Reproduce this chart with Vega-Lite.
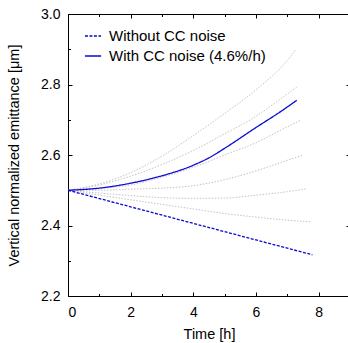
{
  "$schema": "https://vega.github.io/schema/vega-lite/v6.json",
  "width": 282,
  "height": 282,
  "autosize": {"type": "none"},
  "padding": {"left": 68, "top": 14, "right": 0, "bottom": 47},
  "config": {
    "view": {"stroke": null},
    "font": "Liberation Sans",
    "axis": {
      "grid": false,
      "domainColor": "#000000",
      "domainWidth": 1,
      "tickColor": "#000000",
      "tickWidth": 1,
      "labelColor": "#000000",
      "labelFont": "Liberation Sans",
      "labelFontSize": 14,
      "titleFont": "Liberation Sans",
      "titleFontSize": 14.5,
      "titleFontWeight": "normal",
      "titleColor": "#000000"
    },
    "legend": {"labelFont": "Liberation Sans", "labelColor": "#000000"}
  },
  "datasets": {
    "gray": [
      {"series": "g1", "t": 0, "e": 2.5}, {"series": "g1", "t": 1, "e": 2.518}, {"series": "g1", "t": 2, "e": 2.55}, {"series": "g1", "t": 3, "e": 2.597}, {"series": "g1", "t": 4, "e": 2.655}, {"series": "g1", "t": 5, "e": 2.718}, {"series": "g1", "t": 6, "e": 2.785}, {"series": "g1", "t": 7, "e": 2.868}, {"series": "g1", "t": 7.28, "e": 2.9},
      {"series": "g2", "t": 0, "e": 2.5}, {"series": "g2", "t": 1, "e": 2.515}, {"series": "g2", "t": 2, "e": 2.54}, {"series": "g2", "t": 3, "e": 2.573}, {"series": "g2", "t": 4, "e": 2.613}, {"series": "g2", "t": 5, "e": 2.66}, {"series": "g2", "t": 6, "e": 2.71}, {"series": "g2", "t": 6.75, "e": 2.757}, {"series": "g2", "t": 7.34, "e": 2.795},
      {"series": "g3", "t": 0, "e": 2.5}, {"series": "g3", "t": 1, "e": 2.505}, {"series": "g3", "t": 2, "e": 2.515}, {"series": "g3", "t": 3, "e": 2.537}, {"series": "g3", "t": 4, "e": 2.565}, {"series": "g3", "t": 5, "e": 2.6}, {"series": "g3", "t": 6, "e": 2.635}, {"series": "g3", "t": 7, "e": 2.68}, {"series": "g3", "t": 7.41, "e": 2.698},
      {"series": "g4", "t": 0, "e": 2.5}, {"series": "g4", "t": 1, "e": 2.5}, {"series": "g4", "t": 2, "e": 2.503}, {"series": "g4", "t": 3, "e": 2.506}, {"series": "g4", "t": 4, "e": 2.513}, {"series": "g4", "t": 5, "e": 2.53}, {"series": "g4", "t": 6, "e": 2.555}, {"series": "g4", "t": 7, "e": 2.585}, {"series": "g4", "t": 7.52, "e": 2.6},
      {"series": "g5", "t": 0, "e": 2.5}, {"series": "g5", "t": 1, "e": 2.492}, {"series": "g5", "t": 2, "e": 2.485}, {"series": "g5", "t": 3, "e": 2.479}, {"series": "g5", "t": 4, "e": 2.477}, {"series": "g5", "t": 5, "e": 2.478}, {"series": "g5", "t": 6, "e": 2.486}, {"series": "g5", "t": 7, "e": 2.496}, {"series": "g5", "t": 7.58, "e": 2.504},
      {"series": "g6", "t": 0, "e": 2.5}, {"series": "g6", "t": 1, "e": 2.486}, {"series": "g6", "t": 2, "e": 2.473}, {"series": "g6", "t": 3, "e": 2.46}, {"series": "g6", "t": 4, "e": 2.447}, {"series": "g6", "t": 5, "e": 2.434}, {"series": "g6", "t": 6, "e": 2.424}, {"series": "g6", "t": 7, "e": 2.415}, {"series": "g6", "t": 7.76, "e": 2.41}
    ],
    "blue": [
      {"series": "Without CC noise", "t": 0, "e": 2.5}, {"series": "Without CC noise", "t": 2, "e": 2.453}, {"series": "Without CC noise", "t": 4, "e": 2.406}, {"series": "Without CC noise", "t": 6, "e": 2.359}, {"series": "Without CC noise", "t": 7.8, "e": 2.317},
      {"series": "With CC noise (4.6%/h)", "t": 0, "e": 2.5}, {"series": "With CC noise (4.6%/h)", "t": 1, "e": 2.506}, {"series": "With CC noise (4.6%/h)", "t": 2, "e": 2.52}, {"series": "With CC noise (4.6%/h)", "t": 3, "e": 2.541}, {"series": "With CC noise (4.6%/h)", "t": 4, "e": 2.571}, {"series": "With CC noise (4.6%/h)", "t": 4.5, "e": 2.592}, {"series": "With CC noise (4.6%/h)", "t": 5, "e": 2.619}, {"series": "With CC noise (4.6%/h)", "t": 6, "e": 2.678}, {"series": "With CC noise (4.6%/h)", "t": 6.75, "e": 2.721}, {"series": "With CC noise (4.6%/h)", "t": 7.3, "e": 2.755}
    ]
  },
  "layer": [
    {
      "data": {"name": "gray"},
      "mark": {"type": "line", "interpolate": "monotone", "color": "#c4c4c4", "strokeWidth": 1, "strokeDash": [1.5, 1.5]},
      "encoding": {
        "x": {"field": "t", "type": "quantitative", "scale": {"domain": [0, 9], "nice": false},
              "axis": {"orient": "bottom", "values": [0, 2, 4, 6, 8], "tickSize": -4, "labelPadding": 13, "title": "Time [h]", "titlePadding": 8}},
        "y": {"field": "e", "type": "quantitative", "scale": {"domain": [2.2, 3.0], "nice": false, "zero": false},
              "axis": {"orient": "left", "values": [2.2, 2.4, 2.6, 2.8, 3.0], "format": ".1f", "tickSize": -4, "labelPadding": 12, "title": "Vertical normalized emittance [μm]", "titlePadding": 19}},
        "detail": {"field": "series", "type": "nominal"}
      }
    },
    {
      "data": {"name": "gray"},
      "mark": {"type": "line", "strokeOpacity": 0},
      "encoding": {
        "x": {"field": "t", "type": "quantitative", "axis": {"orient": "bottom", "values": [1, 3, 5, 7], "tickSize": -2.5, "labels": false, "domain": false, "title": null}},
        "y": {"field": "e", "type": "quantitative", "axis": {"orient": "left", "values": [2.3, 2.5, 2.7, 2.9], "tickSize": -2.5, "labels": false, "domain": false, "title": null}},
        "detail": {"field": "series", "type": "nominal"}
      }
    },
    {
      "data": {"name": "gray"},
      "mark": {"type": "line", "strokeOpacity": 0},
      "encoding": {
        "x": {"field": "t", "type": "quantitative", "axis": {"orient": "top", "values": [1, 3, 5, 7], "tickSize": -2.5, "labels": false, "domain": false, "title": null}},
        "y": {"field": "e", "type": "quantitative", "axis": {"orient": "right", "values": [2.3, 2.5, 2.7, 2.9], "tickSize": -2.5, "labels": false, "domain": false, "title": null}},
        "detail": {"field": "series", "type": "nominal"}
      }
    },
    {
      "data": {"name": "blue"},
      "mark": {"type": "line", "interpolate": "monotone", "strokeWidth": 1.3},
      "encoding": {
        "x": {"field": "t", "type": "quantitative", "axis": {"orient": "top", "values": [0, 2, 4, 6, 8], "tickSize": -4, "labels": false, "title": null}},
        "y": {"field": "e", "type": "quantitative", "axis": {"orient": "right", "values": [2.2, 2.4, 2.6, 2.8, 3.0], "tickSize": -4, "labels": false, "title": null}},
        "color": {"field": "series", "type": "nominal",
                  "scale": {"domain": ["Without CC noise", "With CC noise (4.6%/h)"], "range": ["#0a0ad0", "#0a0ad0"]},
                  "legend": {"orient": "none", "legendX": 16, "legendY": 13, "title": null, "symbolType": "stroke", "symbolStrokeWidth": 1.3, "symbolSize": 260, "labelFontSize": 15, "rowPadding": 3, "labelOffset": 7}},
        "strokeDash": {"field": "series", "type": "nominal",
                  "scale": {"domain": ["Without CC noise", "With CC noise (4.6%/h)"], "range": [[3, 1.5], [1, 0]]},
                  "legend": {"orient": "none", "legendX": 16, "legendY": 13, "title": null, "symbolType": "stroke", "symbolStrokeWidth": 1.3, "symbolSize": 260, "labelFontSize": 15, "rowPadding": 3, "labelOffset": 7}}
      }
    }
  ],
  "resolve": {"axis": {"x": "independent", "y": "independent"}}
}
